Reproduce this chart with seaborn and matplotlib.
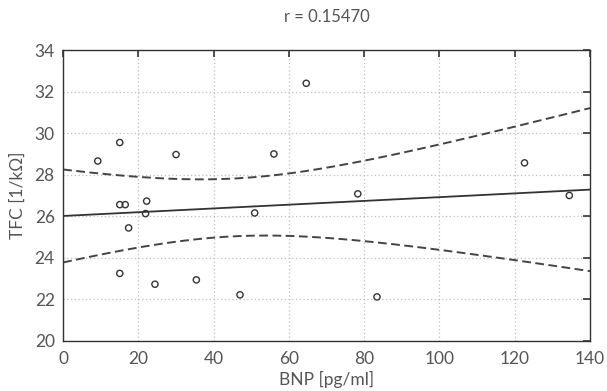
import numpy as np
import pandas as pd
import seaborn as sns
import matplotlib
matplotlib.use("Agg")
import matplotlib.pyplot as plt

# values
bnp = [9.2, 15.05, 30.0, 56.0, 64.6, 122.6, 15.05, 16.5, 22.2, 21.9,
       17.4, 50.9, 15.05, 24.4, 35.4, 47.0, 78.3, 134.5, 83.4]
tfc = [28.66, 29.55, 28.97, 29.0, 32.4, 28.57, 26.56, 26.56, 26.73, 26.13,
       25.44, 26.16, 23.25, 22.73, 22.94, 22.22, 27.08, 27.0, 22.12]
x_ticks = [0, 20, 40, 60, 80, 100, 120, 140]
y_ticks = [20, 22, 24, 26, 28, 30, 32, 34]
title = "r = 0.15470"

df = pd.DataFrame({"BNP": bnp, "TFC": tfc})

# linear fit and 95% confidence band of the mean
x = df["BNP"].to_numpy()
y = df["TFC"].to_numpy()
n = len(x)
slope, intercept = np.polyfit(x, y, 1)
resid = y - (intercept + slope * x)
s = np.sqrt((resid ** 2).sum() / (n - 2))
sxx = ((x - x.mean()) ** 2).sum()
t_val = 2.110  # t(0.975, df=17)
xs = np.linspace(0, 140, 200)
yfit = intercept + slope * xs
half = t_val * s * np.sqrt(1.0 / n + (xs - x.mean()) ** 2 / sxx)
fit = pd.DataFrame({"x": xs, "fit": yfit, "lo": yfit - half, "hi": yfit + half})

sns.set_theme(style="white")
plt.rcParams["font.family"] = ["Lato", "DejaVu Sans"]
text_col = "#555555"

fig = plt.figure(figsize=(6.07, 3.91), dpi=100)
ax = fig.add_axes([0.104, 0.128, 0.868, 0.744])

dash = (0, (4.5, 2.3))
sns.lineplot(data=fit, x="x", y="fit", ax=ax, color="#333333", lw=1.3)
sns.lineplot(data=fit, x="x", y="lo", ax=ax, color="#444444", lw=1.4, linestyle=dash)
sns.lineplot(data=fit, x="x", y="hi", ax=ax, color="#444444", lw=1.4, linestyle=dash)
sns.scatterplot(data=df, x="BNP", y="TFC", ax=ax, marker="o", s=20,
                facecolor="none", edgecolor="#333333", linewidth=1.0, zorder=5)

ax.set_xlim(0, 140)
ax.set_ylim(20, 34)
ax.set_xticks(x_ticks)
ax.set_yticks(y_ticks)
ax.grid(True, color="#bdbdbd", linestyle=(0, (1, 2)), linewidth=0.9)
ax.tick_params(direction="in", length=5, width=1.2, color="#333333",
               top=True, right=True, labelsize=12.5, labelcolor=text_col)
ax.tick_params(axis="x", pad=7)
ax.tick_params(axis="y", pad=6)
for sp in ax.spines.values():
    sp.set_color("#333333")
    sp.set_linewidth(1.0)

ax.set_xlabel("BNP [pg/ml]", fontsize=12.5, color=text_col, labelpad=3)
ax.set_ylabel("TFC [1/k\u03a9]", fontsize=12.5, color=text_col, labelpad=6)
ax.set_title(title, fontsize=12, color=text_col, pad=20)

fig.savefig("out.png", dpi=100)
